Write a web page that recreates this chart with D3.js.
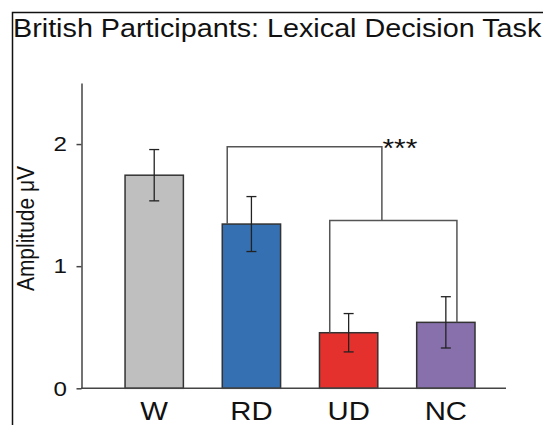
<!DOCTYPE html>
<html>
<head>
<meta charset="utf-8">
<script src="https://cdn.jsdelivr.net/npm/d3@7"></script>
<style>
  html, body { margin: 0; padding: 0; background: #fff; }
  svg { display: block; font-family: "Liberation Sans", Arial, sans-serif; }
</style>
</head>
<body>
<svg id="chart" width="543" height="425"></svg>
<script>
// ---- data ----
const title = "British Participants: Lexical Decision Task";
const yLabel = "Amplitude μV";
const categories = ["W", "RD", "UD", "NC"];
const means = [1.745, 1.345, 0.455, 0.54];
const errors = [0.21, 0.225, 0.157, 0.21];
const barColors = ["#bfbfbf", "#3470b2", "#e5312d", "#8770ac"];
const yTicks = [0, 1, 2];
const yMax = 2.5;
const bracketOuterLevel = 1.978;
const bracketInnerLevel = 1.375;
const sigLabel = "***";

// ---- layout ----
const svg = d3.select("#chart");
const SX = 1.15; // horizontal text stretch seen in reference
const x = d3.scaleBand().domain(categories).range([81, 506])
  .paddingInner(0.4).paddingOuter(0.386).align(0.587);
const y = d3.scaleLinear().domain([0, yMax]).range([388.3, 83]);
const bw = x.bandwidth();

function place(sel, px, py) {
  return sel.attr("x", 0).attr("y", 0)
    .attr("transform", `translate(${px},${py}) scale(${SX},1)`);
}

// frame
svg.append("rect").attr("x", 12.5).attr("y", 12.5)
  .attr("width", 560).attr("height", 440)
  .attr("fill", "none").attr("stroke", "#111").attr("stroke-width", 1.5);

// title
place(svg.append("text").text(title), 13, 37)
  .attr("font-size", 25).attr("fill", "#111");

// y axis
const yAxis = svg.append("g").attr("transform", "translate(81.5,0)")
  .call(d3.axisLeft(y).tickValues(yTicks).tickSize(5).tickSizeOuter(0).tickPadding(10)
    .tickFormat(d3.format("d")));
yAxis.select(".domain").attr("stroke", "#444").attr("stroke-width", 1.5);
yAxis.selectAll(".tick line").attr("stroke", "#444").attr("stroke-width", 1.5);
yAxis.selectAll(".tick text").each(function() {
  const t = d3.select(this);
  t.attr("transform", `translate(-14.5,0) scale(${SX},1)`).attr("x", 0)
   .attr("font-size", 21).attr("fill", "#111").attr("font-family", "Liberation Sans, Arial, sans-serif");
});

// y label
svg.append("text").text(yLabel)
  .attr("transform", `translate(33.5,228.5) scale(${SX},1) rotate(-90)`)
  .attr("text-anchor", "middle").attr("font-size", 21).attr("fill", "#111");

// bars
svg.append("g").selectAll("rect").data(categories).join("rect")
  .attr("x", d => x(d)).attr("width", bw)
  .attr("y", (d, i) => y(means[i]))
  .attr("height", (d, i) => y(0) - y(means[i]))
  .attr("fill", (d, i) => barColors[i])
  .attr("stroke", "#333").attr("stroke-width", 1.5);

// x baseline
svg.append("line").attr("x1", 81).attr("x2", 506)
  .attr("y1", y(0)).attr("y2", y(0))
  .attr("stroke", "#444").attr("stroke-width", 1.5);

// x labels
categories.forEach((c, i) => {
  place(svg.append("text").text(c), x(c) + bw / 2, 419.5)
    .attr("text-anchor", "middle").attr("font-size", 25.5).attr("fill", "#111");
});

// error bars
const eb = svg.append("g").attr("stroke", "#222").attr("stroke-width", 1.3);
categories.forEach((c, i) => {
  const cx = x(c) + bw / 2;
  const hi = y(means[i] + errors[i]), lo = y(means[i] - errors[i]);
  eb.append("line").attr("x1", cx).attr("x2", cx).attr("y1", hi).attr("y2", lo);
  eb.append("line").attr("x1", cx - 5).attr("x2", cx + 5).attr("y1", hi).attr("y2", hi);
  eb.append("line").attr("x1", cx - 5).attr("x2", cx + 5).attr("y1", lo).attr("y2", lo);
});

// significance brackets
const br = svg.append("g").attr("fill", "none").attr("stroke", "#555").attr("stroke-width", 1.5);
const innerL = x("UD") + 0.176 * bw, innerR = x("NC") + 0.69 * bw;
br.append("path").attr("d",
  `M${innerL},${y(means[2])}V${y(bracketInnerLevel)}H${innerR}V${y(means[3])}`);
const outerL = x("RD") + 0.085 * bw, outerR = x("UD") + 1.07 * bw;
br.append("path").attr("d",
  `M${outerL},${y(means[1])}V${y(bracketOuterLevel)}H${outerR}V${y(bracketInnerLevel)}`);

place(svg.append("text").text(sigLabel), outerR + 0.5, 156.5)
  .attr("font-size", 26).attr("fill", "#111");
</script>
</body>
</html>
